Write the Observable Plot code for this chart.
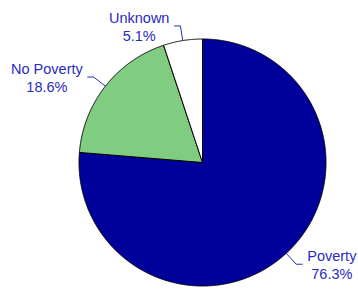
<!DOCTYPE html>
<html><head><meta charset="utf-8">
<script src="https://cdn.jsdelivr.net/npm/d3@7"></script>
<script src="https://cdn.jsdelivr.net/npm/@observablehq/plot@0.6"></script>
<style>html,body{margin:0;padding:0;background:#fff;overflow:hidden}</style>
</head><body><div id="chart"></div>
<script>
const categories = ["Poverty", "No Poverty", "Unknown"];
const values = [76.3, 18.6, 5.1];
const labels = ["Poverty\n76.3%", "No Poverty\n18.6%", "Unknown\n5.1%"];
const colors = ["#00009A", "#80CC80", "#FFFFFF"];
const textColor = "#2A2ABF";

const W = 358, H = 289;
const cx = 202, cy = 162, R = 123.5;
const FS = 14.5;
const xDomain = [-cx / R, (W - cx) / R];
const yDomain = [-(H - cy) / R, cy / R];

const arcs = d3.pie().sort(null).value(d => d)(values);
const slicePts = [];
const leaderPts = [];
const labelData = [];
const ctx = document.createElement("canvas").getContext("2d");
ctx.font = FS + "px 'Liberation Sans', Arial, sans-serif";

arcs.forEach((a, i) => {
  const cat = categories[i];
  const n = Math.max(2, Math.ceil((a.endAngle - a.startAngle) / (Math.PI / 720)));
  slicePts.push({cat, x: 0, y: 0});
  for (let k = 0; k <= n; k++) {
    const t = a.startAngle + (a.endAngle - a.startAngle) * k / n;
    slicePts.push({cat, x: Math.sin(t), y: Math.cos(t)});
  }
  slicePts.push({cat, x: 0, y: 0});

  const m = (a.startAngle + a.endAngle) / 2;
  const side = Math.sin(m) >= 0 ? 1 : -1;
  const ex = 1.12 * Math.sin(m), ey = 1.12 * Math.cos(m);
  const endX = ex + side * 6 / R;
  leaderPts.push({cat, x: Math.sin(m), y: Math.cos(m)});
  leaderPts.push({cat, x: ex, y: ey});
  leaderPts.push({cat, x: endX, y: ey});
  const bw = Math.max(...labels[i].split("\n").map(s => ctx.measureText(s).width));
  labelData.push({text: labels[i], x: endX + side * (5 + bw / 2) / R, y: ey});
});

const chart = Plot.plot({
  width: W, height: H, margin: 0,
  style: {fontFamily: "'Liberation Sans', Arial, sans-serif", background: "#fff"},
  x: {domain: xDomain, axis: null},
  y: {domain: yDomain, axis: null},
  color: {domain: categories, range: colors},
  marks: [
    Plot.line(slicePts, {x: "x", y: "y", z: "cat", fill: "cat", stroke: "black", strokeWidth: 1, strokeLinejoin: "round"}),
    Plot.line(leaderPts, {x: "x", y: "y", z: "cat", stroke: textColor, strokeWidth: 1}),
    Plot.text(labelData, {x: "x", y: "y", text: "text", textAnchor: "middle", lineAnchor: "middle", lineHeight: 1.25, fontSize: FS, fill: textColor})
  ]
});
document.getElementById("chart").appendChild(chart);
</script>
</body></html>
